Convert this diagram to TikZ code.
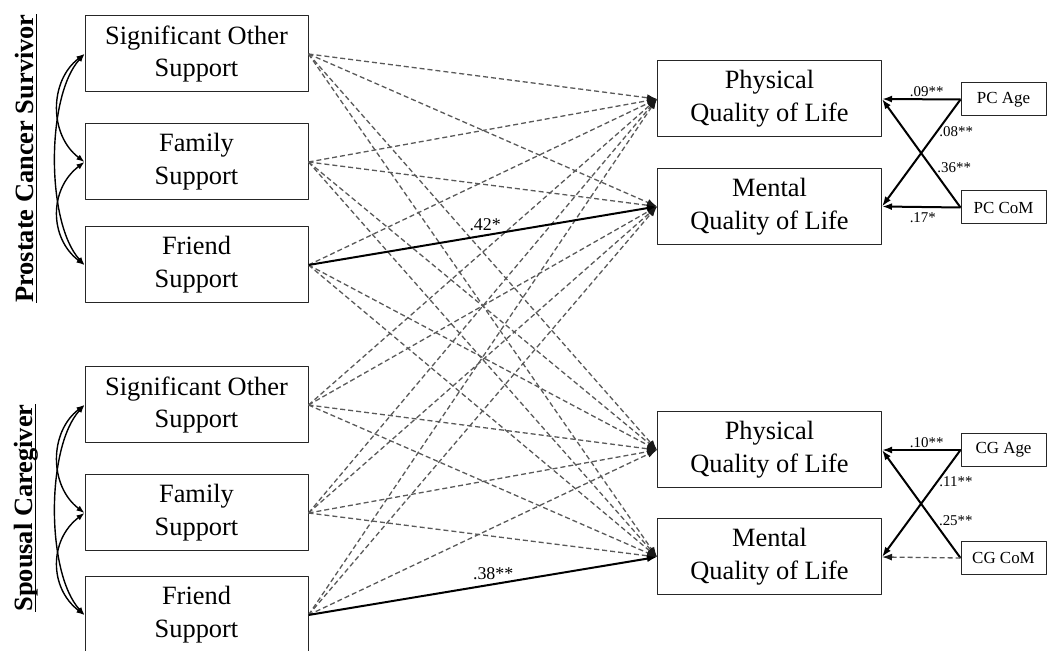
\documentclass[tikz,border=0pt]{standalone}
\usepackage{fontspec}
\setmainfont{Liberation Serif}
\usetikzlibrary{arrows.meta}
\newcommand{\ulin}[1]{\setbox0=\hbox{#1}\rlap{\rule[-4bp]{\wd0}{1.6bp}}\box0}
\tikzset{
  box/.style={draw=black!85,line width=1bp,minimum width=223bp,minimum height=76bp,inner sep=0pt,align=center,font=\fontsize{26.5}{33}\selectfont},
  qolbox/.style={box,minimum width=224bp},
  covbox/.style={draw=black!85,line width=1bp,minimum width=85bp,minimum height=33bp,inner sep=0pt,font=\fontsize{17}{20}\selectfont},
  grouplabel/.style={rotate=90,inner sep=0pt,font=\bfseries\fontsize{26.5}{30}\selectfont},
  nsig/.style={draw=black!65,dashed,dash pattern=on 5bp off 3bp,line width=1.3bp,-{Latex[length=10bp,width=7bp,color=black!90]}},
  sig/.style={draw=black,line width=2bp,->},
  corr/.style={draw=black,line width=1.4bp,{Latex[length=8bp,width=6bp]}-{Latex[length=8bp,width=6bp]}},
  coef/.style={font=\fontsize{15}{16}\selectfont,inner sep=1.5bp},
  bigcoef/.style={font=\fontsize{18}{20}\selectfont,inner sep=1bp},
}
\begin{document}
\begin{tikzpicture}[>={Latex[length=10bp,width=7bp]},line join=bevel]
\useasboundingbox (0bp,0bp) rectangle (1047bp,651bp);
%%
\node (node_pc_title) at (26bp,492.5bp) [grouplabel] {\ulin{Prostate Cancer Survivor}};
  \node (node_cg_title) at (26bp,143bp) [grouplabel] {\ulin{Spousal Caregiver}};
  \node (node_pc_so) at (196.5bp,597bp) [box] {Significant Other\\Support};
  \node (node_pc_fam) at (196.5bp,489bp) [box] {Family\\Support};
  \node (node_pc_fri) at (196.5bp,386bp) [box] {Friend\\Support};
  \node (node_cg_so) at (196.5bp,246bp) [box] {Significant Other\\Support};
  \node (node_cg_fam) at (196.5bp,138bp) [box] {Family\\Support};
  \node (node_cg_fri) at (196.5bp,36bp) [box] {Friend\\Support};
  \node (node_pc_phys) at (769.5bp,552bp) [qolbox] {Physical\\Quality of Life};
  \node (node_pc_ment) at (769.5bp,444.5bp) [qolbox] {Mental\\Quality of Life};
  \node (node_cg_phys) at (769.5bp,201bp) [qolbox] {Physical\\Quality of Life};
  \node (node_cg_ment) at (769.5bp,94bp) [qolbox] {Mental\\Quality of Life};
  \node (node_pc_age) at (1003.5bp,551.5bp) [covbox] {PC Age};
  \node (node_pc_com) at (1003.5bp,443.5bp) [covbox] {PC CoM};
  \node (node_cg_age) at (1003.5bp,201bp) [covbox] {CG Age};
  \node (node_cg_com) at (1003.5bp,93bp) [covbox] {CG CoM};
%% correlations
  \draw [corr] (node_pc_so.west) ..controls (49bp,570bp) and (49bp,516bp)  .. (node_pc_fam.west);
  \draw [corr] (node_pc_fam.west) ..controls (49bp,462bp) and (49bp,413bp)  .. (node_pc_fri.west);
  \draw [corr] (node_pc_so.west) ..controls (46bp,555bp) and (46bp,428bp)  .. (node_pc_fri.west);
  \draw [corr] (node_cg_so.west) ..controls (49bp,219bp) and (49bp,165bp)  .. (node_cg_fam.west);
  \draw [corr] (node_cg_fam.west) ..controls (49bp,111bp) and (49bp,63bp)  .. (node_cg_fri.west);
  \draw [corr] (node_cg_so.west) ..controls (46bp,204bp) and (46bp,78bp)  .. (node_cg_fri.west);
%% support paths
  \draw [nsig] (node_pc_so.east) -- (node_pc_phys.west);
  \draw [nsig] (node_pc_so.east) -- (node_pc_ment.west);
  \draw [nsig] (node_pc_so.east) -- (node_cg_phys.west);
  \draw [nsig] (node_pc_so.east) -- (node_cg_ment.west);
  \draw [nsig] (node_pc_fam.east) -- (node_pc_phys.west);
  \draw [nsig] (node_pc_fam.east) -- (node_pc_ment.west);
  \draw [nsig] (node_pc_fam.east) -- (node_cg_phys.west);
  \draw [nsig] (node_pc_fam.east) -- (node_cg_ment.west);
  \draw [nsig] (node_pc_fri.east) -- (node_pc_phys.west);
  \draw [nsig] (node_pc_fri.east) -- (node_cg_phys.west);
  \draw [nsig] (node_pc_fri.east) -- (node_cg_ment.west);
  \draw [nsig] (node_cg_so.east) -- (node_pc_phys.west);
  \draw [nsig] (node_cg_so.east) -- (node_pc_ment.west);
  \draw [nsig] (node_cg_so.east) -- (node_cg_phys.west);
  \draw [nsig] (node_cg_so.east) -- (node_cg_ment.west);
  \draw [nsig] (node_cg_fam.east) -- (node_pc_phys.west);
  \draw [nsig] (node_cg_fam.east) -- (node_pc_ment.west);
  \draw [nsig] (node_cg_fam.east) -- (node_cg_phys.west);
  \draw [nsig] (node_cg_fam.east) -- (node_cg_ment.west);
  \draw [nsig] (node_cg_fri.east) -- (node_pc_phys.west);
  \draw [nsig] (node_cg_fri.east) -- (node_pc_ment.west);
  \draw [nsig] (node_cg_fri.east) -- (node_cg_phys.west);
  \draw [sig] (node_pc_fri.east) -- node [bigcoef,pos=0.507,above=3bp] {.42*} (node_pc_ment.west);
  \draw [sig] (node_cg_fri.east) -- node [bigcoef,pos=0.53,above=3bp] {.38**} (node_cg_ment.west);
%% covariates
  \draw [sig] (node_pc_age.west) -- node [coef,pos=0.43,above] {.09**} (node_pc_phys.east);
  \draw [sig] (node_pc_age.west) -- node [coef,pos=0.3,right] {.08**} (node_pc_ment.east);
  \draw [sig] (node_pc_com.west) -- node [coef,pos=0.37,right,inner sep=5bp] {.36**} (node_pc_phys.east);
  \draw [sig] (node_pc_com.west) -- node [coef,pos=0.48,below,inner sep=5bp] {.17*} (node_pc_ment.east);
  \draw [sig] (node_cg_age.west) -- node [coef,pos=0.43,above] {.10**} (node_cg_phys.east);
  \draw [sig] (node_cg_age.west) -- node [coef,pos=0.3,right] {.11**} (node_cg_ment.east);
  \draw [sig] (node_cg_com.west) -- node [coef,pos=0.35,right,inner sep=5bp] {.25**} (node_cg_phys.east);
  \draw [nsig] (node_cg_com.west) -- (node_cg_ment.east);
%
\end{tikzpicture}
\end{document}
